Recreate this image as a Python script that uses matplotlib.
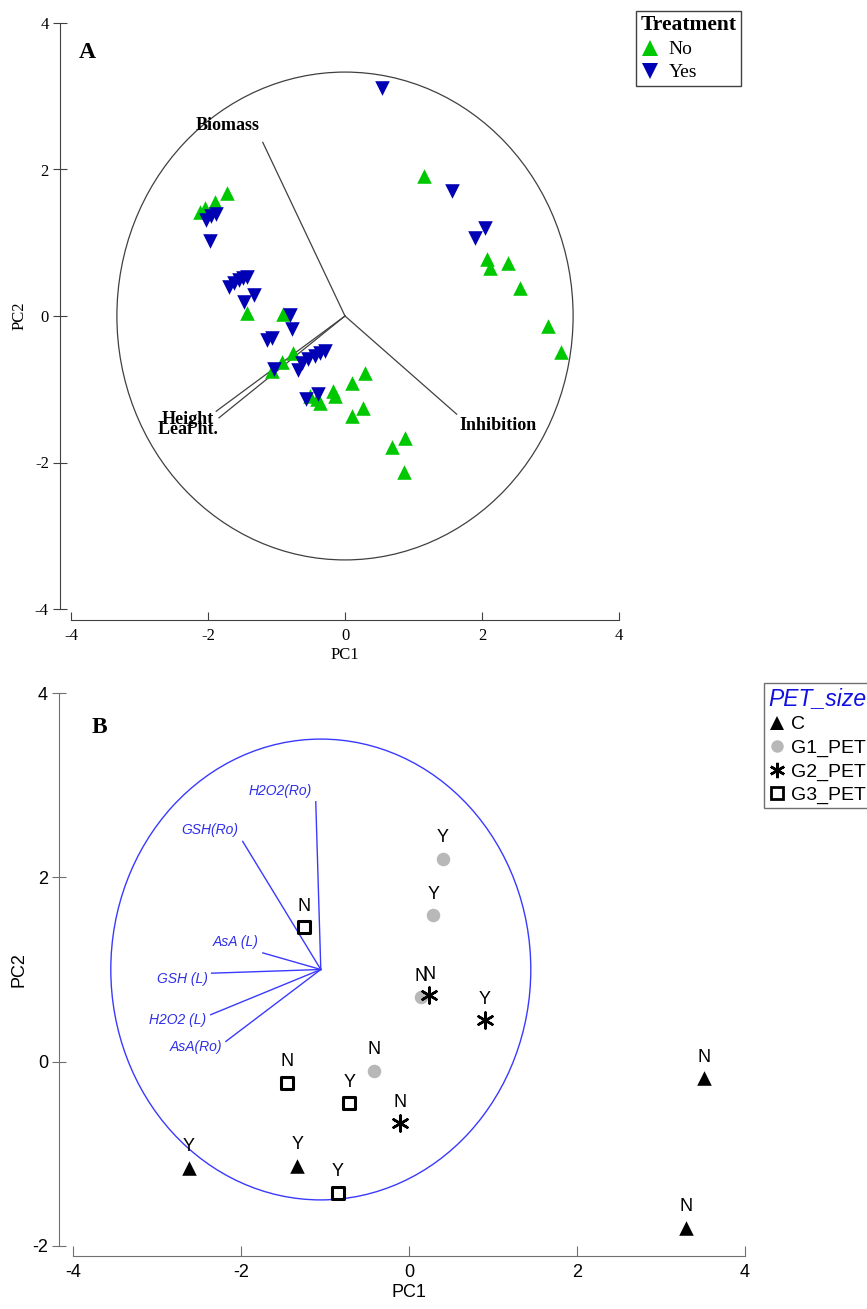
import numpy as np
import matplotlib.pyplot as plt
from matplotlib.patches import Circle
from matplotlib.lines import Line2D

plt.rcParams['axes.unicode_minus'] = False

# Panel A: PCA scores by treatment
no_pc1 = [-2.12, -2.04, -1.90, -1.72, -1.43, -0.91, -0.76, -0.92, -1.07, -0.51,
          -0.41, -0.36, -0.18, -0.15, 0.10, 0.29, 0.26, 0.10, 0.69, 0.88,
          0.86, 1.15, 2.07, 2.12, 2.38, 2.55, 2.96, 3.15]
no_pc2 = [1.42, 1.47, 1.56, 1.68, 0.04, 0.03, -0.50, -0.63, -0.75, -1.09,
          -1.13, -1.19, -1.02, -1.09, -0.91, -0.78, -1.26, -1.36, -1.79, -1.66,
          -2.13, 1.91, 0.78, 0.65, 0.72, 0.38, -0.14, -0.49]
yes_pc1 = [0.54, -2.03, -1.96, -1.88, -1.97, -1.69, -1.62, -1.55, -1.49, -1.43,
           -1.47, -1.33, -0.80, -0.77, -1.14, -1.07, -1.04, -0.69, -0.63, -0.54,
           -0.44, -0.36, -0.29, -0.57, -0.39, 1.56, 2.04, 1.90]
yes_pc2 = [3.11, 1.31, 1.36, 1.39, 1.02, 0.40, 0.45, 0.49, 0.52, 0.53,
           0.19, 0.29, 0.01, -0.18, -0.33, -0.30, -0.72, -0.74, -0.64, -0.59,
           -0.55, -0.50, -0.48, -1.13, -1.06, 1.71, 1.20, 1.06]

# Panel A: loadings
a_vars = ['Biomass', 'Inhibition', 'Height', 'Leaf ht.']
a_load1 = [-1.20, 1.63, -1.88, -1.84]
a_load2 = [2.37, -1.34, -1.30, -1.39]
a_radius = 3.33

# Panel B: PCA scores by PET size
b_groups = ['C', 'G1_PET', 'G2_PET', 'G3_PET']
c_pc1 = [-2.62, -1.33, 3.51, 3.30]
c_pc2 = [-1.15, -1.13, -0.18, -1.80]
c_lab = ['Y', 'Y', 'N', 'N']
g1_pc1 = [0.40, 0.29, 0.14, -0.42]
g1_pc2 = [2.20, 1.59, 0.70, -0.10]
g1_lab = ['Y', 'Y', 'N', 'N']
g2_pc1 = [0.24, 0.90, -0.11]
g2_pc2 = [0.72, 0.45, -0.67]
g2_lab = ['N', 'Y', 'N']
g3_pc1 = [-1.25, -1.45, -0.71, -0.85]
g3_pc2 = [1.46, -0.23, -0.45, -1.42]
g3_lab = ['N', 'N', 'Y', 'Y']

# Panel B: loadings
b_vars = ['H2O2(Ro)', 'GSH(Ro)', 'AsA (L)', 'GSH (L)', 'H2O2 (L)', 'AsA(Ro)']
b_load1 = [-1.11, -1.98, -1.74, -2.35, -2.36, -2.18]
b_load2 = [2.82, 2.39, 1.18, 0.96, 0.51, 0.22]
b_center = (-1.05, 1.0)
b_radius = 2.5

SERIF = 'Liberation Serif'
SANS = 'Liberation Sans'
green = '#00c800'
dblue = '#0000b4'
lblue = '#3a3aff'

fig = plt.figure(figsize=(8.67, 13.09), dpi=100)

# ---------------- panel A ----------------
axA = fig.add_axes([71/867, 1 - 609/1309, 548/867, 586/1309])
axA.set_xlim(-4, 4)
axA.set_ylim(-4, 4)
for s in ['top', 'right']:
    axA.spines[s].set_visible(False)
axA.spines['left'].set_position(('outward', 8))
axA.spines['bottom'].set_position(('outward', 8))
for s in ['left', 'bottom']:
    axA.spines[s].set_color('#404040')
axA.set_xticks([-4, -2, 0, 2, 4])
axA.set_yticks([-4, -2, 0, 2, 4])
axA.tick_params(axis='y', direction='inout', length=10, pad=3, colors='#404040',
                labelcolor='black')
axA.tick_params(axis='x', direction='in', length=6, pad=6, colors='#404040',
                labelcolor='black')
for t in axA.get_xticklabels() + axA.get_yticklabels():
    t.set_family(SERIF)
    t.set_fontsize(12)
axA.set_xlabel('PC1', family=SERIF, fontsize=12, labelpad=2)
axA.set_ylabel('PC2', family=SERIF, fontsize=12, labelpad=5)

axA.add_patch(Circle((0, 0), a_radius, fill=False, ec='#404040', lw=0.9))
a_align = [('right', 'bottom'), ('left', 'top'), ('right', 'top'), ('right', 'top')]
a_off = [(-2, 6), (2, -2), (-2, 0), (-1, -2)]
for name, x, y, (ha, va), off in zip(a_vars, a_load1, a_load2, a_align, a_off):
    axA.plot([0, x], [0, y], color='#404040', lw=0.9)
    axA.annotate(name, (x, y), xytext=off, textcoords='offset points',
                 ha=ha, va=va, family=SERIF, fontweight='bold', fontsize=13)

axA.scatter(no_pc1, no_pc2, marker='^', s=110, color=green, lw=0, zorder=3)
axA.scatter(yes_pc1, yes_pc2, marker='v', s=110, color=dblue, lw=0, zorder=3)
axA.text(-3.88, 3.6, 'A', family=SERIF, fontweight='bold', fontsize=17,
         va='center')

hA = [Line2D([], [], ls='', marker='^', ms=11, color=green, mew=0),
      Line2D([], [], ls='', marker='v', ms=11, color=dblue, mew=0)]
legA = fig.legend(hA, ['No', 'Yes'], title='Treatment', loc='upper left',
                  bbox_to_anchor=(636/867, 1 - 11/1309), frameon=True,
                  fancybox=False, edgecolor='#404040', framealpha=1,
                  prop={'family': SERIF, 'size': 14}, handlelength=1.0,
                  handletextpad=0.45, borderpad=0.22, labelspacing=0.28,
                  borderaxespad=0, alignment='left')
legA.get_title().set_fontproperties({'family': SERIF, 'weight': 'bold', 'size': 15.5})
legA.get_frame().set_linewidth(1.0)

# ---------------- panel B ----------------
axB = fig.add_axes([73/867, 1 - 1246/1309, 672/867, 553/1309])
axB.set_xlim(-4, 4)
axB.set_ylim(-2, 4)
for s in ['top', 'right']:
    axB.spines[s].set_visible(False)
axB.spines['left'].set_position(('outward', 10))
axB.spines['bottom'].set_position(('outward', 7))
for s in ['left', 'bottom']:
    axB.spines[s].set_color('#707070')
axB.set_xticks([-4, -2, 0, 2, 4])
axB.set_yticks([-2, 0, 2, 4])
axB.tick_params(axis='y', direction='inout', length=10, pad=3, colors='#707070',
                labelcolor='black')
axB.tick_params(axis='x', direction='in', length=7, pad=6, colors='#707070',
                labelcolor='black')
for t in axB.get_xticklabels() + axB.get_yticklabels():
    t.set_family(SANS)
    t.set_fontsize(13)
axB.set_xlabel('PC1', family=SANS, fontsize=13, labelpad=2)
axB.set_ylabel('PC2', family=SANS, fontsize=13, labelpad=3)

axB.add_patch(Circle(b_center, b_radius, fill=False, ec=lblue, lw=1.0))
b_align = [('right', 'bottom')] * 3 + [('right', 'top')] * 3
for name, x, y, (ha, va) in zip(b_vars, b_load1, b_load2, b_align):
    axB.plot([b_center[0], x], [b_center[1], y], color=lblue, lw=1.0)
    axB.annotate(name, (x, y), xytext=(-3, 3 if va == 'bottom' else 1),
                 textcoords='offset points', ha=ha, va=va, family=SANS,
                 style='italic', fontsize=10, color='#3030e8')

axB.scatter(c_pc1, c_pc2, marker='^', s=110, color='black', lw=0, zorder=3)
axB.scatter(g1_pc1, g1_pc2, marker='o', s=95, color='#b8b8b8', lw=0, zorder=3)
axB.scatter(g2_pc1, g2_pc2, marker=(6, 2, 0), s=130, color='black', lw=1.8, zorder=4)
axB.scatter(g3_pc1, g3_pc2, marker='s', s=80, facecolor='white', edgecolor='black',
            lw=2.2, zorder=3)
for xs, ys, labs in [(c_pc1, c_pc2, c_lab), (g1_pc1, g1_pc2, g1_lab),
                     (g2_pc1, g2_pc2, g2_lab), (g3_pc1, g3_pc2, g3_lab)]:
    for x, y, lab in zip(xs, ys, labs):
        axB.annotate(lab, (x, y), xytext=(0, 9), textcoords='offset points',
                     ha='center', va='bottom', family=SANS, fontsize=13)
axB.text(-3.78, 3.63, 'B', family=SERIF, fontweight='bold', fontsize=17,
         va='center')

hB = [Line2D([], [], ls='', marker='^', ms=10, color='black', mew=0),
      Line2D([], [], ls='', marker='o', ms=9, color='#b8b8b8', mew=0),
      Line2D([], [], ls='', marker=(6, 2, 0), ms=11, color='black', mew=1.8),
      Line2D([], [], ls='', marker='s', ms=8, mfc='white', mec='black', mew=2)]
legB = fig.legend(hB, b_groups, title='PET_size', loc='upper left',
                  bbox_to_anchor=(764/867, 1 - 683/1309), frameon=True,
                  fancybox=False, edgecolor='#707070', framealpha=1,
                  prop={'family': SANS, 'size': 14}, handlelength=0.9,
                  handletextpad=0.3, borderpad=0.2, labelspacing=0.3,
                  borderaxespad=0, alignment='left')
legB.get_title().set_fontproperties({'family': SANS, 'style': 'italic', 'size': 16.5})
legB.get_title().set_color('#1010e0')
legB.get_frame().set_linewidth(1.0)

fig.savefig('out.png', dpi=100)
